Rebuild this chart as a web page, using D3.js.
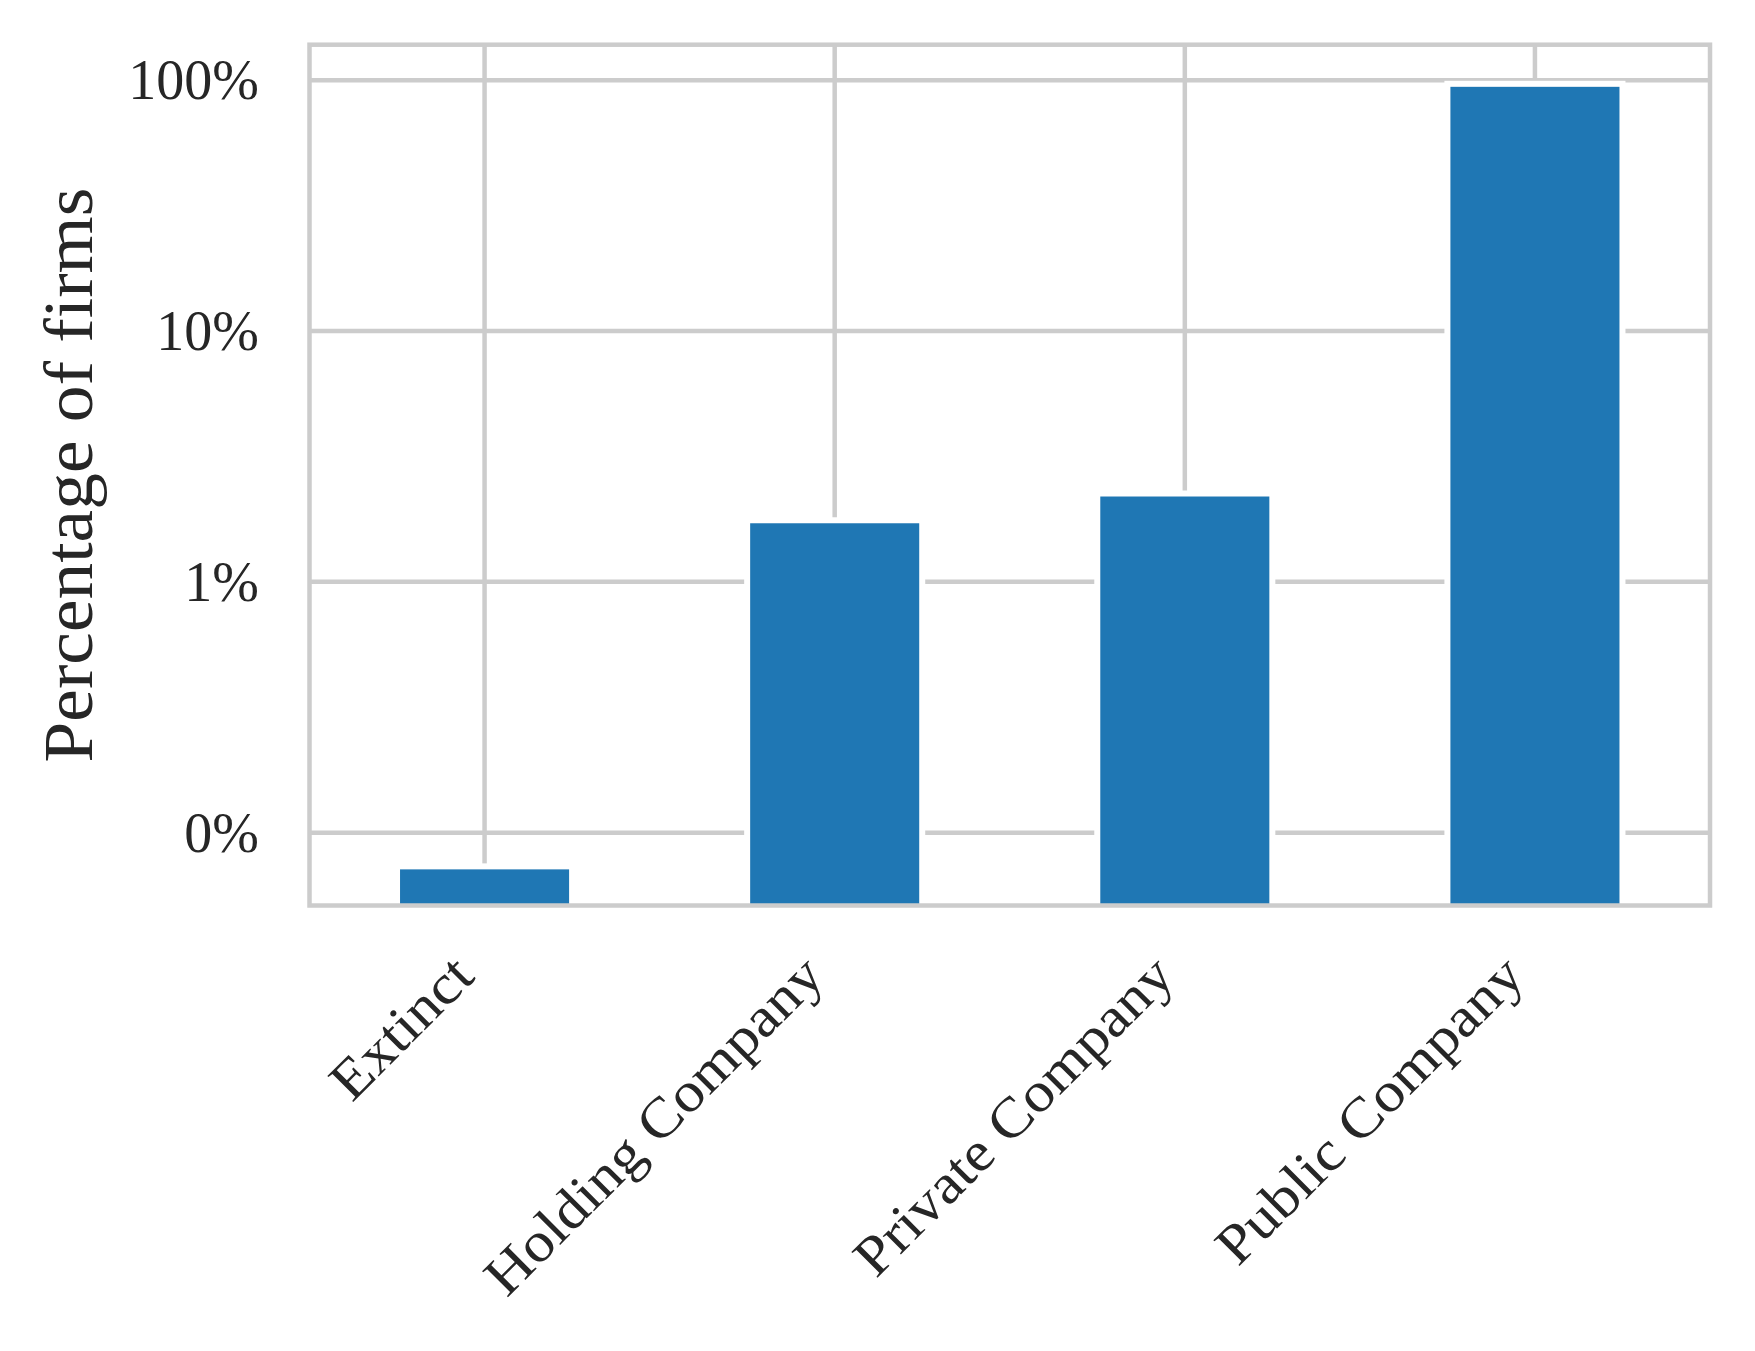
<!DOCTYPE html>
<html>
<head>
<meta charset="utf-8">
<script src="https://cdn.jsdelivr.net/npm/d3@7"></script>
<style>
  html, body { margin: 0; padding: 0; background: #ffffff; }
  svg { display: block; }
</style>
</head>
<body>
<div id="chart"></div>
<script>
// ---- data ----
const categories = ["Extinct", "Holding Company", "Private Company", "Public Company"];
const values = [0.0734, 1.76, 2.25, 96.7];           // percentage of firms
const yTickValues = [0.1, 1, 10, 100];
const yTickLabels = ["0%", "1%", "10%", "100%"];
const yAxisTitle = "Percentage of firms";

// ---- layout ----
const W = 1755, H = 1351;
const pLeft = 309.5, pRight = 1710, pTop = 44.7, pBottom = 905.5;
const ink = "#262626", gridColor = "#cccccc", barColor = "#1f77b4";
const fontFamily = "'Liberation Serif', 'Times New Roman', serif";

const svg = d3.select("#chart").append("svg")
  .attr("width", W).attr("height", H)
  .attr("viewBox", `0 0 ${W} ${H}`);

svg.append("rect").attr("width", W).attr("height", H).attr("fill", "#fff");

// scales
const x = d3.scaleBand().domain(categories).range([pLeft, pRight])
  .paddingInner(0.5).paddingOuter(0.25);

// log scale domain with 5% margins in log space (matplotlib autoscale)
const lmin = Math.log10(d3.min(values)), lmax = Math.log10(d3.max(values));
const mg = (lmax - lmin) * 0.05;
const y = d3.scaleLog().domain([Math.pow(10, lmin - mg), Math.pow(10, lmax + mg)])
  .range([pBottom, pTop]);

// clip for plot area
svg.append("clipPath").attr("id", "plotclip")
  .append("rect").attr("x", pLeft).attr("y", pTop)
  .attr("width", pRight - pLeft).attr("height", pBottom - pTop);

// grid lines
const gridG = svg.append("g").attr("clip-path", "url(#plotclip)");
gridG.selectAll("line.hg").data(yTickValues).join("line")
  .attr("class", "hg")
  .attr("x1", pLeft).attr("x2", pRight)
  .attr("y1", d => y(d)).attr("y2", d => y(d))
  .attr("stroke", gridColor).attr("stroke-width", 4.5);
gridG.selectAll("line.vg").data(categories).join("line")
  .attr("class", "vg")
  .attr("x1", d => x(d) + x.bandwidth() / 2).attr("x2", d => x(d) + x.bandwidth() / 2)
  .attr("y1", pTop).attr("y2", pBottom)
  .attr("stroke", gridColor).attr("stroke-width", 4.5);

// bars
const barG = svg.append("g").attr("clip-path", "url(#plotclip)");
barG.selectAll("rect").data(values).join("rect")
  .attr("x", (d, i) => x(categories[i]))
  .attr("width", x.bandwidth())
  .attr("y", d => y(d))
  .attr("height", d => pBottom + 20 - y(d))
  .attr("fill", barColor)
  .attr("stroke", "#ffffff")
  .attr("stroke-width", 6);

// spines
svg.append("rect")
  .attr("x", pLeft).attr("y", pTop)
  .attr("width", pRight - pLeft).attr("height", pBottom - pTop)
  .attr("fill", "none").attr("stroke", gridColor).attr("stroke-width", 4.5);

// y axis tick labels
const yAxis = d3.axisLeft(y).tickValues(yTickValues)
  .tickFormat((d, i) => yTickLabels[i]).tickSize(0).tickPadding(50.5);
const yG = svg.append("g").attr("transform", `translate(${pLeft},0)`).call(yAxis);
yG.select(".domain").remove();
yG.selectAll("text")
  .attr("font-family", fontFamily).attr("font-size", 56)
  .attr("fill", ink).attr("dy", "0.33em");

// x tick labels (rotated 45°)
const xG = svg.append("g");
xG.selectAll("text").data(categories).join("text")
  .attr("transform", d => `translate(${x(d) + x.bandwidth() / 2 - 8},${pBottom + 73}) rotate(-45) scale(1.09,1)`)
  .attr("text-anchor", "end")
  .attr("font-family", fontFamily).attr("font-size", 56)
  .attr("fill", ink)
  .text(d => d);

// y axis title
svg.append("text")
  .attr("transform", `translate(92,${(pTop + pBottom) / 2}) rotate(-90) scale(1.064,1)`)
  .attr("text-anchor", "middle")
  .attr("font-family", fontFamily).attr("font-size", 69)
  .attr("fill", ink)
  .text(yAxisTitle);
</script>
</body>
</html>
